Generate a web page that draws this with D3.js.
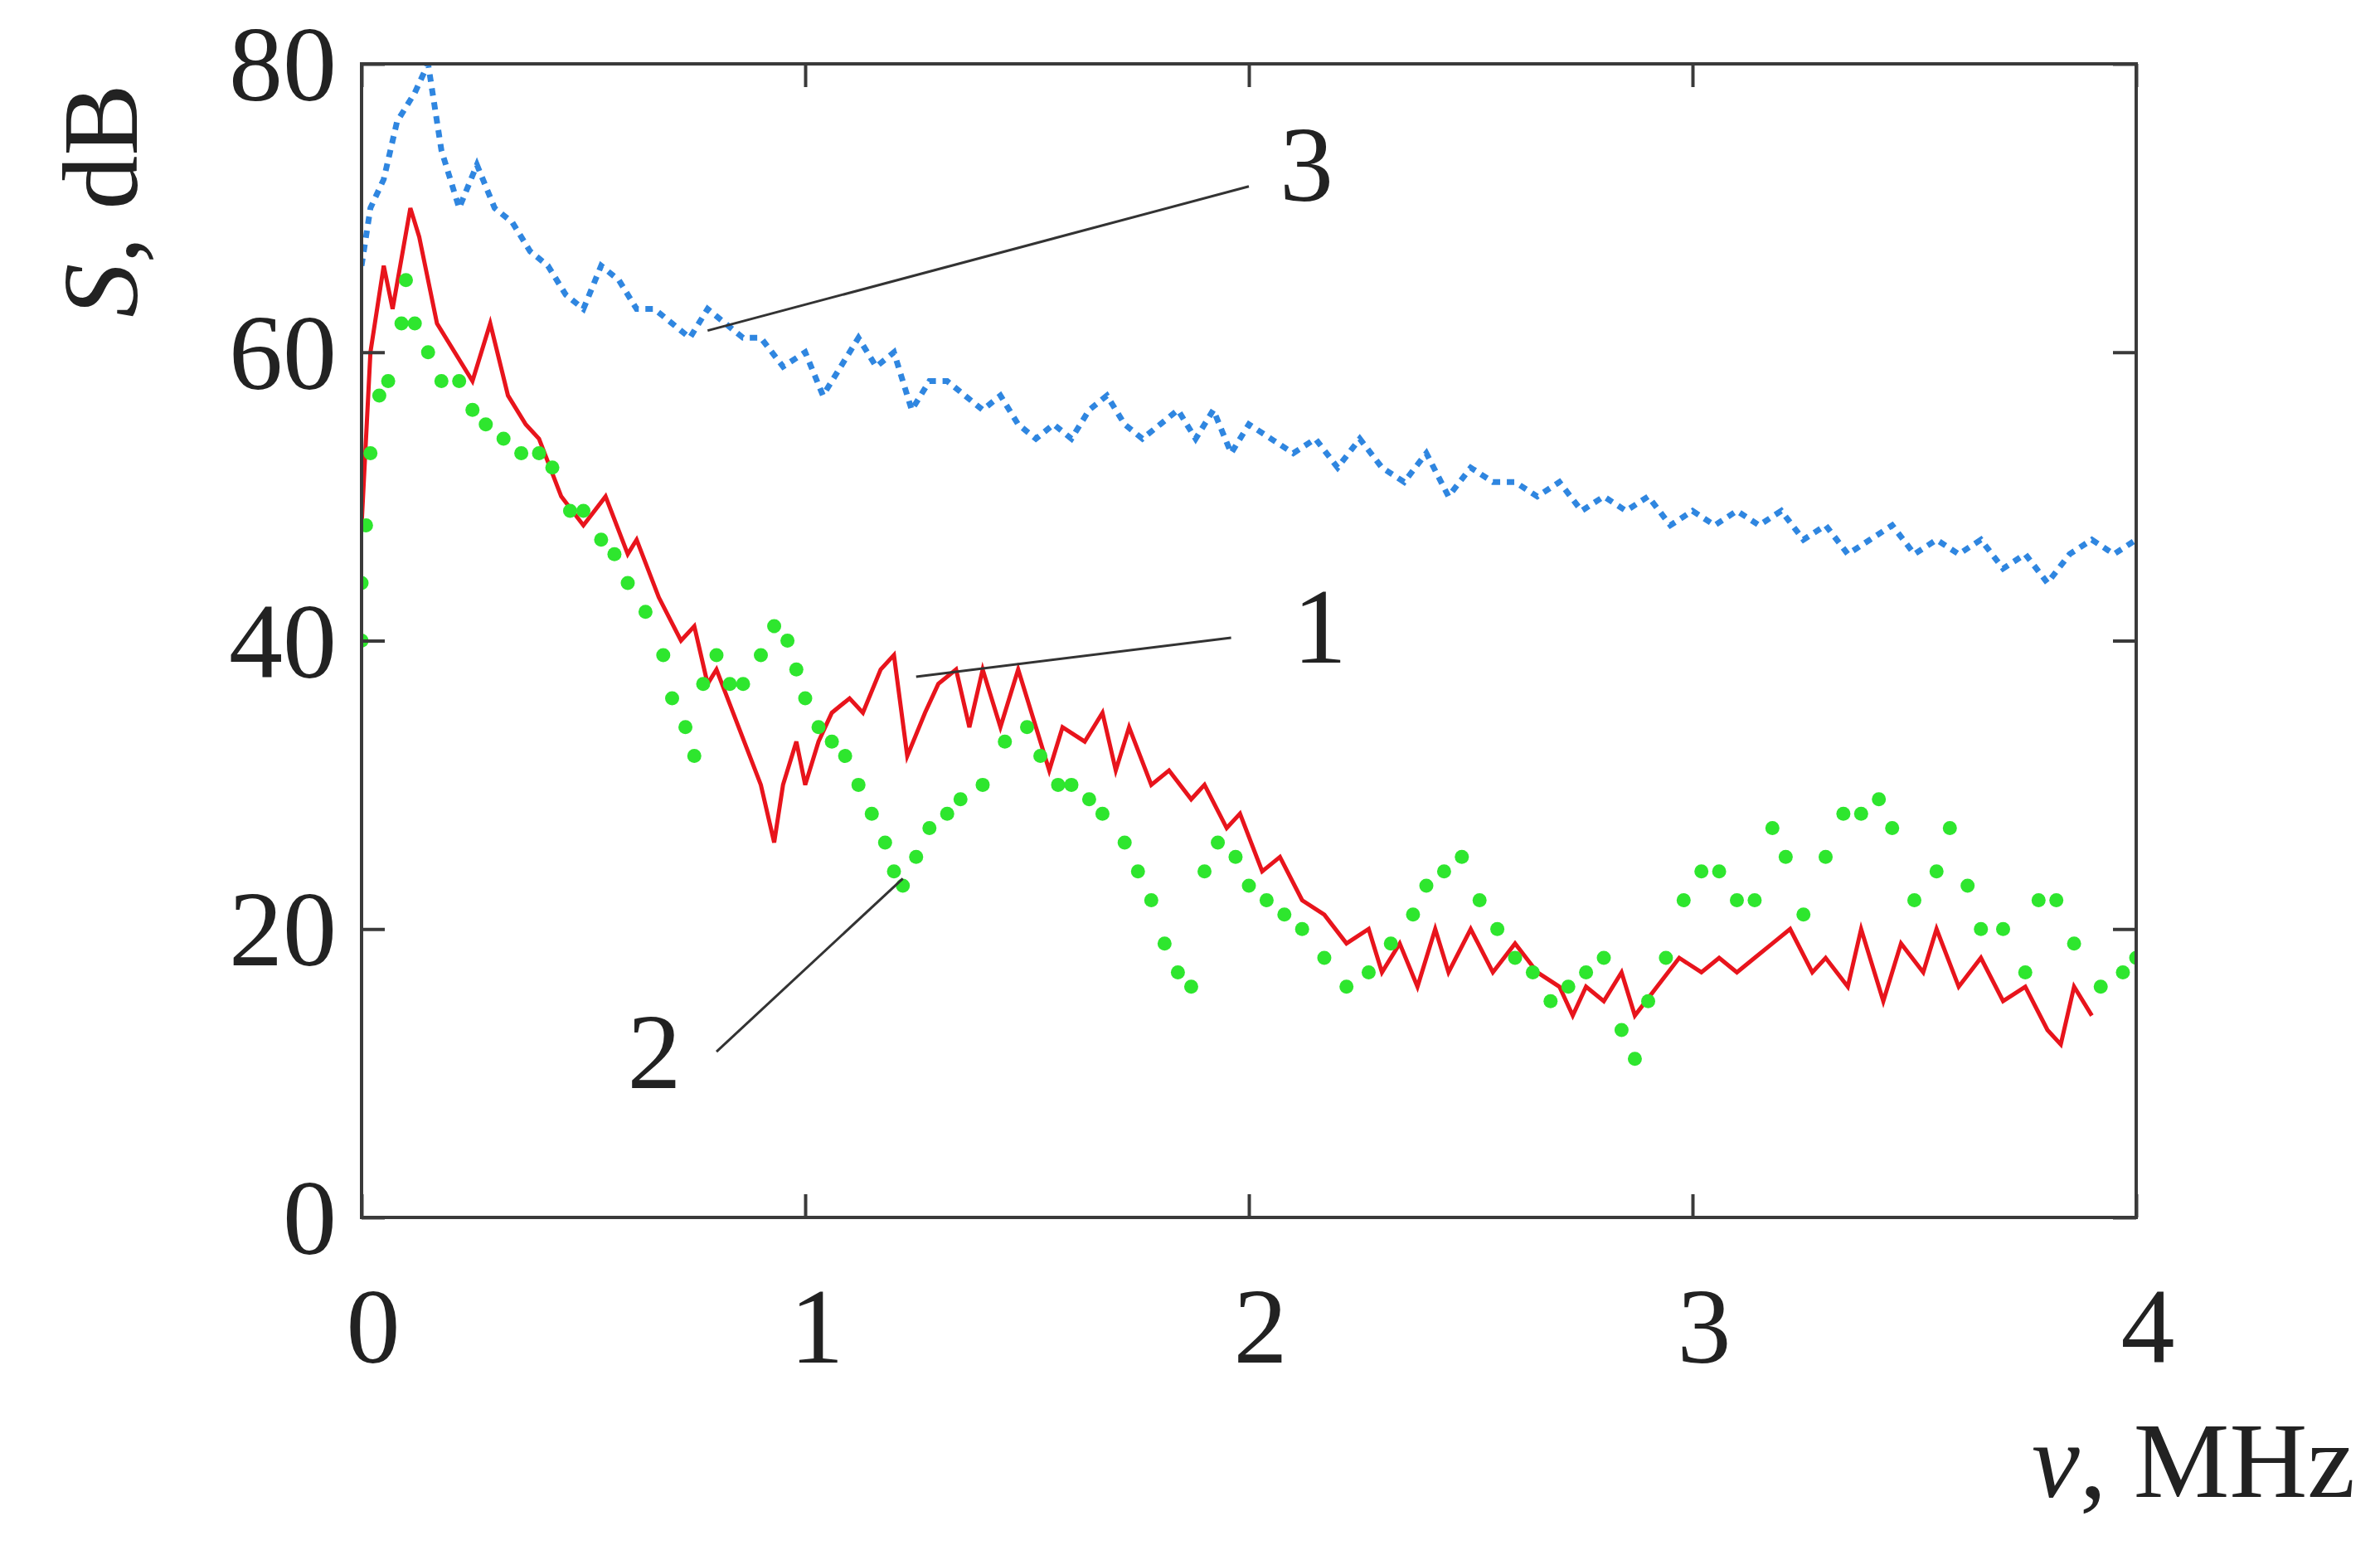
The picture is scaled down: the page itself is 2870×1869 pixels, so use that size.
<!DOCTYPE html>
<html><head><meta charset="utf-8">
<script src="https://cdn.jsdelivr.net/npm/d3@7"></script>
<style>body{margin:0;background:#fff}</style>
</head><body><div id="chart"></div>
<script>
// series 1 (red solid)
var s1x = [0,0.02,0.05,0.07,0.11,0.13,0.17,0.25,0.29,0.33,0.37,0.4,0.45,0.5,0.55,0.6,0.62,0.67,0.72,0.75,0.78,0.8,0.85,0.9,0.93,0.95,0.98,1.0,1.03,1.06,1.1,1.13,1.17,1.2,1.23,1.27,1.3,1.34,1.37,1.4,1.44,1.48,1.52,1.55,1.58,1.63,1.67,1.7,1.73,1.78,1.82,1.87,1.9,1.95,1.98,2.03,2.07,2.12,2.17,2.22,2.27,2.3,2.34,2.38,2.42,2.45,2.5,2.55,2.6,2.65,2.7,2.73,2.76,2.8,2.84,2.87,2.92,2.97,3.02,3.06,3.1,3.14,3.18,3.22,3.27,3.3,3.35,3.38,3.43,3.47,3.52,3.55,3.6,3.65,3.7,3.75,3.8,3.83,3.86,3.9];
var s1y = [48,60,66,63,70,68,62,58,62,57,55,54,50,48,50,46,47,43,40,41,37,38,34,30,26,30,33,30,33,35,36,35,38,39,32,35,37,38,34,38,34,38,34,31,34,33,35,31,34,30,31,29,30,27,28,24,25,22,21,19,20,17,19,16,20,17,20,17,19,17,16,14,16,15,17,14,16,18,17,18,17,18,19,20,17,18,16,20,15,19,17,20,16,18,15,16,13,12,16,14];
// series 2 (green dots)
var s2x = [0,0,0.01,0.02,0.04,0.06,0.09,0.1,0.12,0.15,0.18,0.22,0.25,0.28,0.32,0.36,0.4,0.43,0.47,0.5,0.54,0.57,0.6,0.64,0.68,0.7,0.73,0.75,0.77,0.8,0.83,0.86,0.9,0.93,0.96,0.98,1.0,1.03,1.06,1.09,1.12,1.15,1.18,1.2,1.22,1.25,1.28,1.32,1.35,1.4,1.45,1.5,1.53,1.57,1.6,1.64,1.67,1.72,1.75,1.78,1.81,1.84,1.87,1.9,1.93,1.97,2.0,2.04,2.08,2.12,2.17,2.22,2.27,2.32,2.37,2.4,2.44,2.48,2.52,2.56,2.6,2.64,2.68,2.72,2.76,2.8,2.84,2.87,2.9,2.94,2.98,3.02,3.06,3.1,3.14,3.18,3.21,3.25,3.3,3.34,3.38,3.42,3.45,3.5,3.55,3.58,3.62,3.65,3.7,3.75,3.78,3.82,3.86,3.92,3.97,4.0];
var s2y = [40,44,48,53,57,58,62,65,62,60,58,58,56,55,54,53,53,52,49,49,47,46,44,42,39,36,34,32,37,39,37,37,39,41,40,38,36,34,33,32,30,28,26,24,23,25,27,28,29,30,33,34,32,30,30,29,28,26,24,22,19,17,16,24,26,25,23,22,21,20,18,16,17,19,21,23,24,25,22,20,18,17,15,16,17,18,13,11,15,18,22,24,24,22,22,27,25,21,25,28,28,29,27,22,24,27,23,20,20,17,22,22,19,16,17,18];
// series 3 (blue dashed)
var s3x = [0,0.02,0.05,0.08,0.12,0.15,0.18,0.22,0.26,0.3,0.34,0.38,0.42,0.46,0.5,0.54,0.58,0.62,0.66,0.7,0.74,0.78,0.82,0.86,0.9,0.95,1.0,1.04,1.08,1.12,1.16,1.2,1.24,1.28,1.32,1.36,1.4,1.44,1.48,1.52,1.56,1.6,1.64,1.68,1.72,1.76,1.8,1.84,1.88,1.92,1.96,2.0,2.05,2.1,2.15,2.2,2.25,2.3,2.35,2.4,2.45,2.5,2.55,2.6,2.65,2.7,2.75,2.8,2.85,2.9,2.95,3.0,3.05,3.1,3.15,3.2,3.25,3.3,3.35,3.4,3.45,3.5,3.55,3.6,3.65,3.7,3.75,3.8,3.85,3.9,3.95,4.0];
var s3y = [66,70,72,76,78,80,74,70,73,70,69,67,66,64,63,66,65,63,63,62,61,63,62,61,61,59,60,57,59,61,59,60,56,58,58,57,56,57,55,54,55,54,56,57,55,54,55,56,54,56,53,55,54,53,54,52,54,52,51,53,50,52,51,51,50,51,49,50,49,50,48,49,48,49,48,49,47,48,46,47,48,46,47,46,47,45,46,44,46,47,46,47];
var xTicks = [0,1,2,3,4];
var yTicks = [0,20,40,60,80];
// annotation labels: [label, text x,y, leader from x,y, leader to x,y] in data units
var notes = [
  ["3", 2.13, 70.5, 0.78, 61.5, 2.0, 71.5],
  ["1", 2.16, 38.5, 1.25, 37.5, 1.96, 40.2],
  ["2", 0.66, 9, 0.8, 11.5, 1.22, 23.5]
];

var W = 2870, H = 1869;
var m = {left: 436, right: 2576, top: 77, bottom: 1468};
var x = d3.scaleLinear().domain([0, 4]).range([m.left, m.right]);
var y = d3.scaleLinear().domain([0, 80]).range([m.bottom, m.top]);
var font = "'Liberation Serif', 'Times New Roman', serif";
var fs = 130;

var svg = d3.select("#chart").append("svg").attr("width", W).attr("height", H);
svg.append("defs").append("clipPath").attr("id", "cp").append("rect")
  .attr("x", m.left).attr("y", m.top).attr("width", m.right - m.left).attr("height", m.bottom - m.top);

var pl = svg.append("g").attr("clip-path", "url(#cp)");
var line = d3.line().x(function(d) { return x(d[0]); }).y(function(d) { return y(d[1]); });

pl.append("path").datum(d3.zip(s3x, s3y)).attr("d", line)
  .attr("fill", "none").attr("stroke", "#2f86e0").attr("stroke-width", 7).attr("stroke-dasharray", "9,8");
pl.append("path").datum(d3.zip(s1x, s1y)).attr("d", line)
  .attr("fill", "none").attr("stroke", "#e8141c").attr("stroke-width", 5);
pl.selectAll(".g").data(d3.zip(s2x, s2y)).enter().append("circle")
  .attr("cx", function(d) { return x(d[0]); }).attr("cy", function(d) { return y(d[1]); })
  .attr("r", 8.5).attr("fill", "#2ee62e");

// frame + inward ticks
var frame = "#3a3a3a";
svg.append("rect").attr("x", m.left).attr("y", m.top).attr("width", m.right - m.left).attr("height", m.bottom - m.top)
  .attr("fill", "none").attr("stroke", frame).attr("stroke-width", 4);
svg.append("g").attr("transform", "translate(0," + m.bottom + ")")
  .call(d3.axisBottom(x).tickValues(xTicks).tickSize(-28).tickFormat("")).call(function(g){ g.select(".domain").remove(); });
svg.append("g").attr("transform", "translate(0," + m.top + ")")
  .call(d3.axisTop(x).tickValues(xTicks).tickSize(-28).tickFormat("")).call(function(g){ g.select(".domain").remove(); });
svg.append("g").attr("transform", "translate(" + m.left + ",0)")
  .call(d3.axisLeft(y).tickValues(yTicks).tickSize(-28).tickFormat("")).call(function(g){ g.select(".domain").remove(); });
svg.append("g").attr("transform", "translate(" + m.right + ",0)")
  .call(d3.axisRight(y).tickValues(yTicks).tickSize(-28).tickFormat("")).call(function(g){ g.select(".domain").remove(); });
svg.selectAll(".tick line").attr("stroke", frame).attr("stroke-width", 4);

// tick labels
svg.selectAll(".xl").data(xTicks).enter().append("text")
  .attr("x", function(d) { return x(d) + 14; }).attr("y", m.bottom + 175)
  .attr("text-anchor", "middle").attr("font-family", font).attr("font-size", fs).attr("fill", "#222")
  .text(function(d) { return d; });
svg.selectAll(".yl").data(yTicks).enter().append("text")
  .attr("x", m.left - 30).attr("y", function(d) { return y(d) + 44; })
  .attr("text-anchor", "end").attr("font-family", font).attr("font-size", fs).attr("fill", "#222")
  .text(function(d) { return d; });

// axis titles
var yt = svg.append("text").attr("transform", "translate(165,242) rotate(-90)")
  .attr("text-anchor", "middle").attr("font-family", font).attr("font-size", fs).attr("fill", "#222");
yt.append("tspan").attr("font-style", "italic").text("S");
yt.append("tspan").text(", dB");
var xt = svg.append("text").attr("x", 2840).attr("y", 1805)
  .attr("text-anchor", "end").attr("font-family", font).attr("font-size", fs).attr("fill", "#222");
xt.append("tspan").attr("font-style", "italic").text("ν");
xt.append("tspan").text(", MHz");

// annotations
notes.forEach(function(n) {
  svg.append("line").attr("x1", x(n[3])).attr("y1", y(n[4])).attr("x2", x(n[5])).attr("y2", y(n[6]))
    .attr("stroke", "#333").attr("stroke-width", 3);
  svg.append("text").attr("x", x(n[1])).attr("y", y(n[2])).attr("text-anchor", "middle")
    .attr("font-family", font).attr("font-size", fs).attr("fill", "#222").text(n[0]);
});
</script></body></html>
